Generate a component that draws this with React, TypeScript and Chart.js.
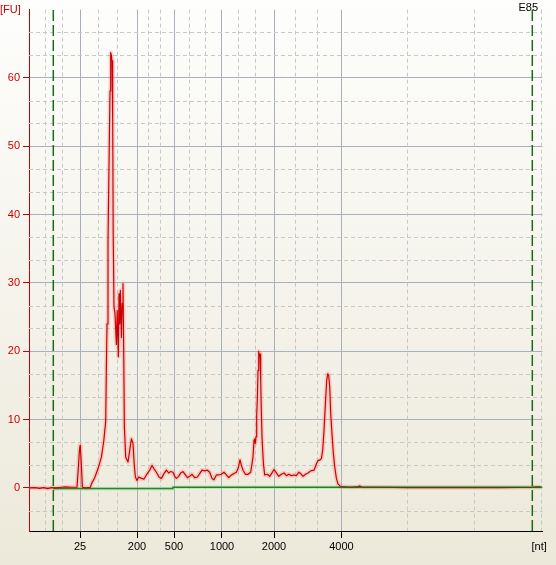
import React, { useEffect, useRef } from 'react';
import { Chart, registerables } from 'chart.js';

Chart.register(...registerables);

// Migration time (s) and fluorescence (FU) of the sample trace
const traceTime = [
  19.0, 19.57, 20.07, 20.47, 20.87, 21.27, 21.67, 22.27, 22.67, 23.27,
  23.8, 23.94, 24.03, 24.1, 24.15, 24.2, 24.34, 24.67, 25.14, 25.24,
  25.57, 25.9, 26.24, 26.47, 26.67, 26.74, 26.8, 26.9, 27.0, 27.1,
  27.17, 27.24, 27.3, 27.37, 27.42, 27.5, 27.6, 27.74, 27.82, 27.94,
  28.0, 28.07, 28.14, 28.24, 28.32, 28.4, 28.47, 28.54, 28.67, 28.9,
  29.07, 29.24, 29.4, 29.52, 29.64, 29.8, 29.97, 30.24, 30.5, 30.74,
  31.07, 31.3, 31.5, 31.74, 32.0, 32.24, 32.5, 32.74, 32.97, 33.17,
  33.4, 33.57, 33.74, 33.97, 34.17, 34.4, 34.64, 34.84, 35.07, 35.3,
  35.57, 35.84, 36.07, 36.3, 36.57, 36.84, 37.07, 37.3, 37.5, 37.74,
  37.97, 38.24, 38.5, 38.74, 38.97, 39.24, 39.5, 39.74, 39.9, 40.1,
  40.24, 40.4, 40.64, 40.9, 41.17, 41.4, 41.5, 41.57, 41.64, 41.7,
  41.77, 41.84, 41.9, 41.97, 42.04, 42.1, 42.17, 42.24, 42.3, 42.44,
  42.57, 42.84, 43.07, 43.3, 43.5, 43.74, 43.97, 44.24, 44.5, 44.74,
  44.97, 45.24, 45.5, 45.74, 45.97, 46.17, 46.4, 46.64, 46.9, 47.17,
  47.5, 47.74, 47.9, 48.1, 48.24, 48.37, 48.5, 48.64, 48.77, 48.87,
  48.97, 49.07, 49.17, 49.3, 49.44, 49.57, 49.74, 49.9, 50.17, 51.07,
  51.87, 52.07, 52.27, 54.07, 56.87, 61.07, 66.07, 69.27, 70.17,
];
const traceFU = [
  0, 0.05, -0.05, 0.05, -0.1, 0.05, 0, 0.1, 0.15, 0.1,
  0.1, 3.1, 5.2, 6.2, 5.5, 4.5, 0.1, 0, 0.1, 0.6,
  1.5, 2.8, 4.5, 6.8, 9.7, 17.7, 24, 36, 47.2, 58.1,
  63.7, 63.3, 62.5, 53.8, 37, 26.5, 25.5, 21, 26, 19.2,
  28.4, 24, 28.9, 22, 27, 29.9, 20, 8.9, 4.5, 3.8,
  5.5, 7.2, 6.5, 3.5, 1.6, 1.1, 1.6, 1.4, 1.3, 1.9,
  2.6, 3.3, 2.8, 2.3, 1.6, 1.4, 2.1, 2.6, 2.2, 2.4,
  2.3, 1.7, 1.4, 1.7, 2.2, 2.4, 1.9, 1.5, 1.7, 2.0,
  1.5, 1.6, 2.1, 2.6, 2.5, 2.6, 2.3, 1.4, 1.2, 1.9,
  1.9, 2.0, 2.3, 1.9, 1.5, 1.9, 2.1, 2.3, 2.8, 4.1,
  3.3, 2.6, 2.0, 2.0, 2.3, 4.5, 7.0, 7.2, 6.5, 7.5,
  10.6, 13.3, 17.2, 20.0, 19.2, 19.6, 15.7, 10.9, 7.5, 3.6,
  1.9, 2.0, 1.7, 2.2, 2.7, 2.2, 1.7, 2.0, 2.2, 1.8,
  2.0, 1.8, 1.9, 1.8, 2.3, 2.1, 1.7, 2.0, 2.2, 2.5,
  2.6, 3.5, 4.0, 4.1, 4.3, 5.5, 8.4, 12.3, 15.7, 16.7,
  16.5, 14.8, 10.9, 7.9, 5.0, 3.1, 1.4, 0.6, 0.2, 0.1,
  0.15, 0.3, 0.1, 0.1, 0.05, 0.05, 0.05, 0.1, 0.15,
];

// Baseline (green) segments
const baselineTime = [21.43, 33.4, 33.4, 70.35];
const baselineFU = [-0.1, -0.1, 0.1, 0.1];

// Lower / upper marker positions (s)
const markerTime = [21.43, 69.33];

// Ladder positions (s) and their size labels
const ladderTime = [24.1, 29.8, 33.5, 38.3, 43.5, 50.24];
const ladderLabels = ['25', '200', '500', '1000', '2000', '4000'];

// Minor (dashed) vertical gridline positions (s)
const minorTime = [
  20.74, 22.4, 26.0, 27.94, 31.0, 32.24, 35.1, 36.74, 40.04, 41.74,
  45.74, 47.9, 56.9, 63.64, 70.3,
];

const yTicks = [0, 10, 20, 30, 40, 50, 60];
const X_MIN = 19.0;
const X_MAX = 70.35;
const Y_MIN = -6.3;
const Y_MAX = 70;

const FONT = '"Liberation Sans", Arial, sans-serif';
const RED = '#C80000';
const GRID = '#A8B0BE';

const decorPlugin = {
  id: 'decor',
  beforeDraw(chart: any) {
    const { ctx, width, height } = chart;
    const g = ctx.createLinearGradient(0, 0, 0, height);
    g.addColorStop(0, '#FEFEFD');
    g.addColorStop(1, '#ECE9DA');
    ctx.save();
    ctx.fillStyle = g;
    ctx.fillRect(0, 0, width, height);
    ctx.restore();
  },
  beforeDatasetsDraw(chart: any) {
    const { ctx, chartArea: a, scales } = chart;
    const x = scales.x;
    const y = scales.y;
    const yMinor: number[] = [];
    for (let v = -10; v <= 70; v += 10) {
      yMinor.push(v + 10 / 3, v + 20 / 3);
    }
    ctx.save();
    ctx.strokeStyle = '#C8C8C8';
    ctx.lineWidth = 1;
    ctx.setLineDash([4, 3]);
    ctx.beginPath();
    minorTime.forEach((t) => {
      const px = Math.round(x.getPixelForValue(t)) - 0.5;
      ctx.moveTo(px, a.top);
      ctx.lineTo(px, a.bottom);
    });
    yMinor.forEach((v) => {
      if (v <= Y_MIN || v >= Y_MAX) return;
      const py = Math.round(y.getPixelForValue(v)) + 0.5;
      ctx.moveTo(a.left, py);
      ctx.lineTo(a.right, py);
    });
    ctx.stroke();
    ctx.restore();
  },
  afterDraw(chart: any) {
    const { ctx } = chart;
    ctx.save();
    ctx.font = `11px ${FONT}`;
    ctx.textBaseline = 'alphabetic';
    ctx.fillStyle = RED;
    ctx.textAlign = 'left';
    ctx.fillText('[FU]', 0, 13);
    ctx.fillStyle = '#000';
    ctx.fillText('E85', 518.5, 11);
    ctx.fillText('[nt]', 531.5, 550);
    ctx.restore();
  },
};

export default function App() {
  const ref = useRef<HTMLCanvasElement | null>(null);

  useEffect(() => {
    document.body.style.margin = '0';
    const canvas = ref.current;
    if (!canvas) return;
    const trace = traceTime.map((t, i) => ({ x: t, y: traceFU[i] }));
    const base = baselineTime.map((t, i) => ({ x: t, y: baselineFU[i] }));
    const markerSet = (t: number) => ({
      data: [
        { x: t, y: Y_MIN },
        { x: t, y: Y_MAX },
      ],
      borderColor: '#1A6A1A',
      borderWidth: 1.5,
      borderDash: [11, 4],
      pointRadius: 0,
    });
    const chart = new Chart(canvas, {
      type: 'line',
      data: {
        datasets: [
          {
            data: base,
            borderColor: 'rgba(10,105,10,0.8)',
            borderWidth: 1.3,
            pointRadius: 0,
          },
          markerSet(markerTime[0]),
          markerSet(markerTime[1]),
          {
            data: trace,
            borderColor: '#CC0000',
            borderWidth: 1.2,
            pointRadius: 0,
            borderJoinStyle: 'round',
          },
          {
            data: trace,
            borderColor: 'rgba(255,110,110,0.28)',
            borderWidth: 4.5,
            pointRadius: 0,
            borderJoinStyle: 'round',
          },
          {
            data: base,
            borderColor: 'rgba(140,230,140,0.5)',
            borderWidth: 3.5,
            pointRadius: 0,
          },
        ] as any,
      },
      options: {
        animation: false,
        responsive: false,
        events: [],
        layout: { padding: { top: 9, right: 13.5, left: 0, bottom: 0 } },
        plugins: {
          legend: { display: false },
          tooltip: { enabled: false },
        },
        scales: {
          x: {
            type: 'linear',
            min: X_MIN,
            max: X_MAX,
            afterBuildTicks: (s: any) => {
              s.ticks = ladderTime.map((v) => ({ value: v }));
            },
            afterFit: (s: any) => {
              s.height = 34;
            },
            ticks: {
              autoSkip: false,
              maxRotation: 0,
              color: '#000',
              padding: 2,
              font: { family: FONT, size: 11 },
              callback: (_v: any, i: number) => ladderLabels[i],
            },
            grid: { color: GRID, tickColor: '#000', tickLength: 7, lineWidth: 1 },
            border: { color: '#000', width: 1 },
          },
          y: {
            type: 'linear',
            min: Y_MIN,
            max: Y_MAX,
            afterBuildTicks: (s: any) => {
              s.ticks = yTicks.map((v) => ({ value: v }));
            },
            afterFit: (s: any) => {
              s.width = 29;
            },
            ticks: {
              color: RED,
              padding: 3,
              font: { family: FONT, size: 11 },
              callback: (v: any) => String(v),
            },
            grid: { color: GRID, tickColor: RED, tickLength: 6, lineWidth: 1 },
            border: { color: RED, width: 1 },
          },
        },
      } as any,
      plugins: [decorPlugin],
    });
    return () => chart.destroy();
  }, []);

  return (
    <canvas
      ref={ref}
      width={556}
      height={565}
      style={{ display: 'block', width: 556, height: 565 }}
    />
  );
}
